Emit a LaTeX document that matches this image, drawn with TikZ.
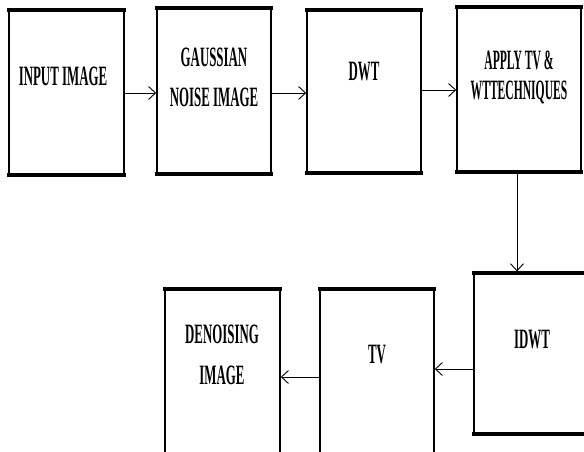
\documentclass[tikz,border=0pt]{standalone}
\usepackage{fontspec}
\usetikzlibrary{arrows.meta}
\setmainfont{Liberation Serif}
\begin{document}
\begin{tikzpicture}[x=1pt,y=-1pt,
  blk/.style={draw=black, line width=1.6pt, rectangle, inner sep=0pt},
  thickedge/.style={draw=black, line width=3.6pt},
  lbl/.style={align=center, inner sep=0pt, xscale=0.46, transform shape},
  conn/.style={line width=0.9pt, -{Straight Barb[length=7pt,width=13pt,line width=0.9pt]}}]
\useasboundingbox (0,0) rectangle (584,452);
\clip (0,0) rectangle (584,452);
\fill[white] (0,0) rectangle (584,452);
% boxes
\node[blk, minimum width=115pt, minimum height=163pt] (in) at (66.5,92.5) {};
\node[blk, minimum width=114pt, minimum height=164pt] (gn) at (214,91) {};
\node[blk, minimum width=114pt, minimum height=161pt] (dwt) at (364,91.5) {};
\node[blk, minimum width=124pt, minimum height=163pt] (ap) at (519,89.5) {};
\node[blk, minimum width=136pt, minimum height=159pt] (idwt) at (542,353.5) {};
\node[blk, minimum width=114pt, minimum height=190pt] (tv) at (377,385) {};
\node[blk, minimum width=115pt, minimum height=190pt] (dn) at (222.5,385) {};
% thick top and bottom edges
\foreach \b in {in,gn,dwt,ap,idwt,tv,dn}{
  \draw[thickedge] ([xshift=-0.8pt]\b.north west) -- ([xshift=0.8pt]\b.north east);
  \draw[thickedge] ([xshift=-0.8pt]\b.south west) -- ([xshift=0.8pt]\b.south east);
}
% labels
\node[lbl, font=\bfseries\fontsize{28}{40}\selectfont] (tin) at (63,76) {INPUT IMAGE};
\node[lbl, font=\bfseries\fontsize{28}{40}\selectfont] (tgn) at (214,77) {GAUSSIAN\\NOISE IMAGE};
\node[lbl, font=\bfseries\fontsize{28}{40}\selectfont] (tdwt) at (364,72) {DWT};
\node[lbl, xscale=0.9, font=\bfseries\fontsize{28}{30}\selectfont] (tap) at (519,77) {APPLY TV \&\\WTTECHNIQUES};
\node[lbl, font=\bfseries\fontsize{28}{40}\selectfont] (tidwt) at (532,340) {IDWT};
\node[lbl, font=\bfseries\fontsize{28}{40}\selectfont] (ttv) at (377,355) {TV};
\node[lbl, font=\bfseries\fontsize{28}{41}\selectfont] (tdn) at (222,355) {DENOISING\\IMAGE};
% connectors
\draw[conn] (in.east |- 0,93) -- (gn.west |- 0,93);
\draw[conn] (gn.east |- 0,93) -- (dwt.west |- 0,93);
\draw[conn] (dwt.east |- 0,90) -- (ap.west |- 0,90);
\draw[conn] ([yshift=-1.8pt]ap.south -| 517,0) -- ([yshift=1.8pt]idwt.north -| 517,0);
\draw[conn] (idwt.west |- 0,369) -- (tv.east |- 0,369);
\draw[conn] (tv.west |- 0,377) -- (dn.east |- 0,377);
\end{tikzpicture}
\end{document}
